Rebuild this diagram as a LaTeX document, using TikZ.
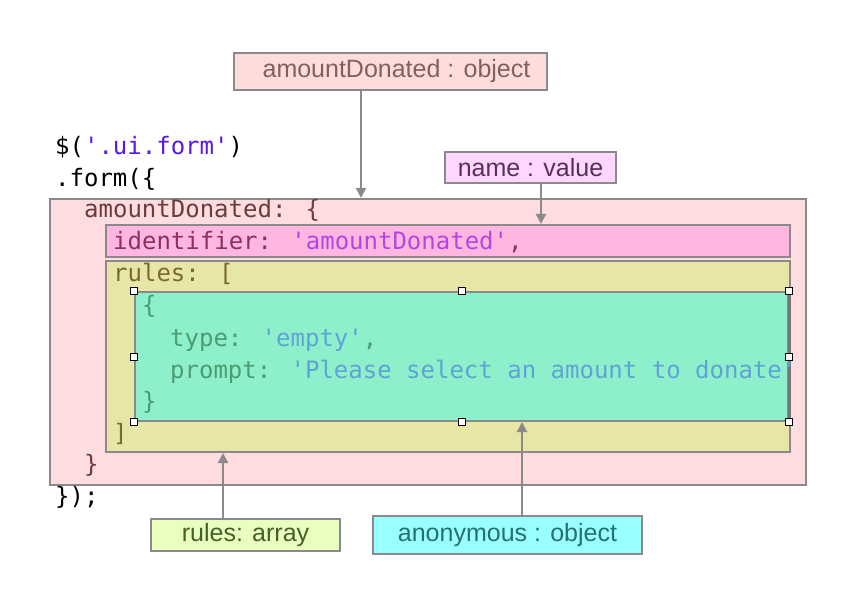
\documentclass[tikz,border=0pt]{standalone}
\usepackage{fontspec}
\setmainfont{Liberation Sans}
\newfontfamily\codefont[Ligatures=TeXOff]{DejaVu Sans Mono}
\usetikzlibrary{arrows.meta}
\definecolor{edgegray}{HTML}{8A8A8A}
\definecolor{bigpink}{HTML}{FFDCDF}
\definecolor{idpink}{HTML}{FFB7E1}
\definecolor{rulesyellow}{HTML}{E8E6A6}
\definecolor{objgreen}{HTML}{8EF0CB}
\definecolor{adfill}{HTML}{FFDCDC}
\definecolor{nvfill}{HTML}{FFD6FF}
\definecolor{rafill}{HTML}{E8FFC0}
\definecolor{anfill}{HTML}{99FFFF}
\definecolor{codeblue}{HTML}{5B17E8}
\definecolor{maroon}{HTML}{6E3B3B}
\definecolor{idkey}{HTML}{8E2F62}
\definecolor{idval}{HTML}{B445E0}
\definecolor{olive}{HTML}{7A6A2E}
\definecolor{cgreen}{HTML}{4C9C72}
\definecolor{cblue}{HTML}{5FA3D6}
\definecolor{adtext}{HTML}{806060}
\definecolor{nvtext}{HTML}{553355}
\definecolor{ratext}{HTML}{44602A}
\definecolor{antext}{HTML}{267070}
\begin{document}
\begin{tikzpicture}[x=1pt,y=-1pt,
  region/.style={draw=edgegray,line width=2pt,inner sep=0pt,anchor=north west,rectangle},
  tag/.style={draw=edgegray,line width=2pt,inner sep=0pt,anchor=north west,rectangle,font=\fontsize{25}{29}\selectfont},
  code/.style={inner sep=0pt,anchor=base west,font=\codefont\fontsize{24}{28}\selectfont},
  handle/.style={draw=black,fill=white,line width=0.7pt,minimum size=7pt,inner sep=0pt,rectangle},
  conn/.style={draw=edgegray,line width=2pt},
  arr/.style={conn,-{Triangle[width=10pt,length=10pt]}}]
\useasboundingbox (0,0) rectangle (864,609);
% regions
\node[region,fill=bigpink,minimum width=756,minimum height=286] (outer) at (49,198) {};
\node[region,fill=idpink,minimum width=684,minimum height=32] (ident) at (105,224) {};
\node[region,fill=rulesyellow,minimum width=684,minimum height=191] (rules) at (105,260) {};
\node[region,fill=objgreen,minimum width=653,minimum height=129] (obj) at (134,291) {};
\draw[draw=edgegray!85!black,line width=3pt] (obj.north east) -- (obj.south east);
% code
\node[code] (l1) at (55,155) {\$({\color{codeblue}'.ui.form'})};
\node[code] (l2) at (55,187) {.form(\{};
\node[code,text=maroon] (l3) at (84,218) {amountDonated: \{};
\node[code,text=idkey] (l4) at (113,250) {identifier: {\color{idval}'amountDonated'},};
\node[code,text=olive] (l5) at (113,282) {rules: [};
\node[code,text=cgreen] (l6) at (142,314) {\{};
\node[code,text=cgreen] (l7) at (170,346) {type: {\color{cblue}'empty'},};
\node[code,text=cgreen] (l8) at (170,378) {prompt: {\color{cblue}'Please select an amount to donate'}};
\node[code,text=cgreen] (l9) at (142,409) {\}};
\node[code,text=olive] (l10) at (113,441) {]};
\node[code,text=maroon] (l11) at (84,472) {\}};
\node[code] (l12) at (55,504) {\});};
% handles
\foreach \n/\p in {ha/obj.north west,hb/obj.north,hc/obj.north east,hd/obj.west,he/obj.east,hf/obj.south west,hg/obj.south,hh/obj.south east}
  \node[handle] (\n) at (\p) {};
% tags
\node[tag,fill=adfill,text=adtext,minimum width=313,minimum height=37] (adtag) at (233,52) {\hspace*{12pt}amountDonated : object};
\node[tag,fill=nvfill,text=nvtext,minimum width=171,minimum height=31] (nvtag) at (444,151) {name : value};
\node[tag,fill=rafill,text=ratext,minimum width=189,minimum height=32] (ratag) at (150,518) {rules: array};
\node[tag,fill=anfill,text=antext,minimum width=269,minimum height=38] (antag) at (372,515) {anonymous : object};
% connectors
\coordinate (xa) at (361,0);
\coordinate (xb) at (541,0);
\coordinate (xc) at (223,0);
\coordinate (xd) at (522,0);
\draw[arr] (adtag.south -| xa) -- (outer.north -| xa);
\draw[arr] (nvtag.south -| xb) -- (ident.north -| xb);
\draw[arr] (ratag.north -| xc) -- (rules.south -| xc);
\draw[arr] (antag.north -| xd) -- (obj.south -| xd);
\end{tikzpicture}
\end{document}
